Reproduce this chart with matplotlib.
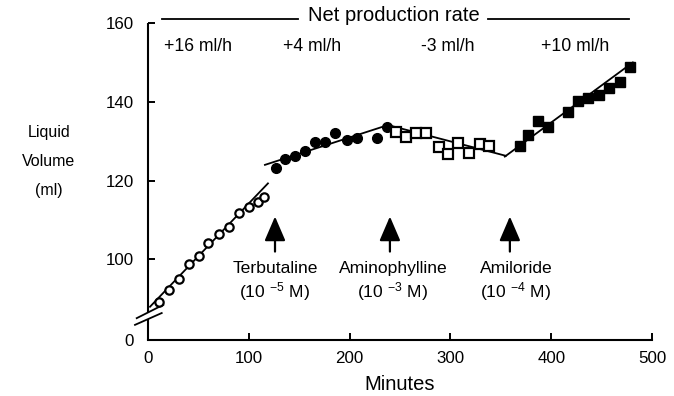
import matplotlib
matplotlib.use("Agg")
import matplotlib.pyplot as plt

plt.rcParams['font.family'] = ['Liberation Sans', 'DejaVu Sans']
plt.rcParams['mathtext.default'] = 'regular'

# --- data ---
open_circle_min = [11, 21, 31, 41, 51, 60, 70, 80, 90, 100, 109, 115]
open_circle_vol = [89.3, 92.3, 95.1, 98.8, 100.9, 104.1, 106.5, 108.3, 111.9, 113.4, 114.7, 115.9]

filled_circle_min = [127, 136, 146, 156, 166, 176, 186, 197, 207, 227, 237]
filled_circle_vol = [123.1, 125.5, 126.3, 127.4, 129.9, 129.7, 132.0, 130.3, 130.8, 130.8, 133.7]

open_square_min = [246, 256, 266, 276, 289, 298, 308, 318, 329, 338]
open_square_vol = [132.4, 131.0, 132.0, 132.0, 128.5, 126.8, 129.5, 127.0, 129.3, 128.9]

filled_square_min = [369, 377, 387, 397, 417, 427, 437, 447, 457, 468, 478]
filled_square_vol = [128.9, 131.6, 135.2, 133.5, 137.5, 140.3, 140.9, 141.8, 143.5, 145.1, 148.9]

fit_segments = [
    ([2, 119], [88.0, 119.3]),
    ([116, 238], [124.0, 134.1]),
    ([238, 355], [134.1, 126.3]),
    ([354, 481], [126.1, 150.0]),
]

rate_labels = ["+16 ml/h", "+4 ml/h", "-3 ml/h", "+10 ml/h"]
rate_x = [50, 163, 297, 424]

drug_names = ["Terbutaline", "Aminophylline", "Amiloride"]
drug_conc = ["(10 $^{-5}$ M)", "(10 $^{-3}$ M)", "(10 $^{-4}$ M)"]
drug_arrow_x = [126, 240, 359]
drug_text_x = [126, 243, 365]

y_ticks = [100, 120, 140, 160]
x_ticks = [0, 100, 200, 300, 400, 500]
Y_ZERO = 79.56  # display position of the "0" tick below the axis break

# --- figure ---
fig = plt.figure(figsize=(6.74, 3.96), dpi=100)
ax = fig.add_axes([148/674, 1-340/396, 504/674, (340-23)/396])
ax.set_xlim(0, 500)
ax.set_ylim(Y_ZERO, 160)

for sp in ['top', 'right', 'left']:
    ax.spines[sp].set_visible(False)
ax.spines['bottom'].set_linewidth(1.5)

# manual left spine with break
ax.plot([0, 0], [Y_ZERO, 84.9], color='black', lw=1.5, clip_on=False, solid_capstyle='butt')
ax.plot([0, 0], [86.5, 160], color='black', lw=1.5, clip_on=False, solid_capstyle='butt')
ax.plot([-11.2, 15.2], [85.1, 88.5], color='black', lw=1.3, clip_on=False)
ax.plot([-12.9, 13.6], [83.4, 86.4], color='black', lw=1.3, clip_on=False)

ax.set_yticks([Y_ZERO] + y_ticks)
ax.set_yticklabels(["0"] + [str(v) for v in y_ticks])
ax.set_xticks(x_ticks)
ax.set_xticklabels([str(v) for v in x_ticks])
ax.tick_params(axis='y', direction='in', length=5, width=1.4, pad=10, labelsize=12.2)
ax.tick_params(axis='x', direction='in', length=5, width=1.4, pad=8, labelsize=12.2)

# fit lines
for xs, ys in fit_segments:
    ax.plot(xs, ys, color='black', lw=1.3, zorder=2)

# data points
ax.plot(open_circle_min, open_circle_vol, 'o', ms=6, mfc='white', mec='black', mew=1.6, zorder=3)
ax.plot(filled_circle_min, filled_circle_vol, 'o', ms=7, mfc='black', mec='black', zorder=3)
ax.plot(open_square_min, open_square_vol, 's', ms=6.5, mfc='white', mec='black', mew=1.6, zorder=3)
ax.plot(filled_square_min, filled_square_vol, 's', ms=6.5, mfc='black', mec='black', zorder=3)

# net production rate header
ax.plot([14, 149], [161.0, 161.0], color='black', lw=1.3, clip_on=False)
ax.plot([337, 477], [161.0, 161.0], color='black', lw=1.3, clip_on=False)
ax.text(244, 161.8, "Net production rate", ha='center', va='center', fontsize=14.5)
for lab, x in zip(rate_labels, rate_x):
    ax.text(x, 154.0, lab, ha='center', va='center', fontsize=12.7)

# drug arrows and labels
for ax_x, tx, name, conc in zip(drug_arrow_x, drug_text_x, drug_names, drug_conc):
    ax.annotate("", xy=(ax_x, 110.9), xytext=(ax_x, 102.0),
                arrowprops=dict(arrowstyle='-|>,head_length=1.0,head_width=0.43',
                                mutation_scale=15, lw=1.6, color='black',
                                shrinkA=0, shrinkB=0))
    ax.text(tx, 97.6, name, ha='center', va='center', fontsize=12.6)
    ax.text(tx, 91.8, conc, ha='center', va='center', fontsize=12.6)

# axis labels
fig.text(400/674, 1-384/396, "Minutes", ha='center', va='center', fontsize=14.5)
for lab, yp in zip(["Liquid", "Volume", "(ml)"], [133, 161, 190]):
    fig.text(49/674, 1-yp/396, lab, ha='center', va='center', fontsize=11.5)

fig.savefig("out.png", dpi=100)
